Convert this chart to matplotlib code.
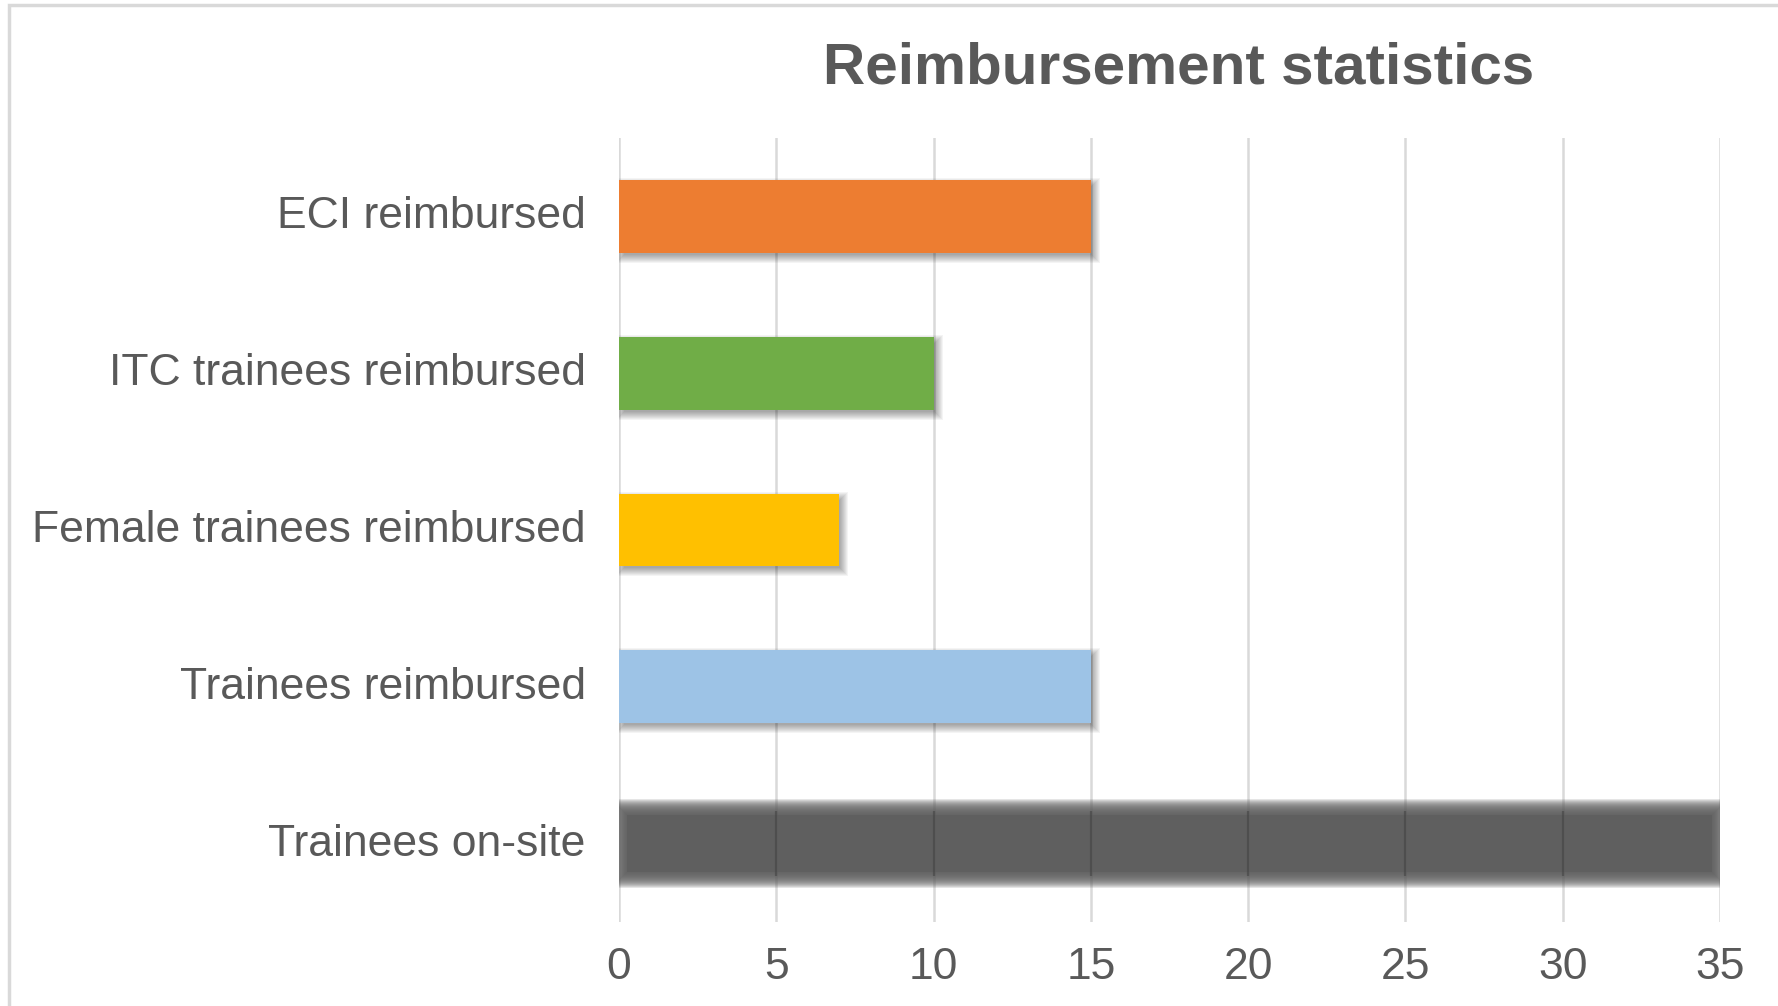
import matplotlib
matplotlib.use("Agg")
import matplotlib.pyplot as plt
from matplotlib.patches import Rectangle
from matplotlib.transforms import ScaledTranslation

plt.rcParams['font.family'] = ['Liberation Sans', 'DejaVu Sans']

# data (bottom to top)
categories = ["Trainees on-site", "Trainees reimbursed", "Female trainees reimbursed",
              "ITC trainees reimbursed", "ECI reimbursed"]
values = [35, 15, 7, 10, 15]
bar_colors = ["#5F5F5F", "#9DC3E6", "#FFC000", "#70AD47", "#ED7D31"]
xticks = [0, 5, 10, 15, 20, 25, 30, 35]

W, H = 1778, 1006
fig = plt.figure(figsize=(W / 100, H / 100), dpi=100)
ax_rect = [619 / W, 1 - 922 / H, (1720 - 619) / W, (922 - 138) / H]
ax = fig.add_axes(ax_rect)

ax.set_xlim(0, 35)
ax.set_ylim(-0.5, len(categories) - 0.5)

# size of one pixel in data units
px_x = 35 / (ax_rect[2] * W)
px_y = len(categories) / (ax_rect[3] * H)

bar_h = 0.465
ypos = list(range(len(categories)))

for y, v, c in zip(ypos, values, bar_colors):
    if y == 0:
        # soft-edged dark bar
        blur = 8
        for k in range(-blur, blur + 1, 1):
            ax.barh(y, v + 2 * k * px_x, left=-k * px_x, height=bar_h + 2 * k * px_y,
                    color=c, alpha=0.16, linewidth=0, zorder=3)
        ax.barh(y, v - 2 * blur * px_x, left=blur * px_x, height=bar_h - 2 * blur * px_y,
                color=c, linewidth=0, zorder=3)
        # gridlines show through slightly darker on this bar
        ax.vlines(xticks[1:-1], y - bar_h / 2 + 4 * px_y, y + bar_h / 2 - 4 * px_y,
                  color="#3A3A3A", linewidth=1.6, alpha=0.45, zorder=4)
    else:
        # blurred drop shadow, offset down-right
        for k in range(-2, 7):
            ax.barh(y - 4 * px_y, v + 2 * k * px_x, left=3 * px_x - k * px_x,
                    height=bar_h + 2 * k * px_y, color="black", alpha=0.045,
                    linewidth=0, zorder=2)
        ax.barh(y, v, height=bar_h, color=c, linewidth=0, zorder=3)

ax.set_yticks(ypos)
ax.set_yticklabels(categories)
ax.set_xticks(xticks)
ax.set_xticklabels([str(t) for t in xticks])

ax.xaxis.grid(True, color="#D9D9D9", linewidth=1.8, zorder=1)
ax.yaxis.grid(False)
ax.set_axisbelow(True)
for s in ax.spines.values():
    s.set_visible(False)
ax.tick_params(axis="both", length=0, labelsize=32, labelcolor="#595959")
ax.tick_params(axis="x", pad=18)
ax.tick_params(axis="y", pad=24)
shift = ScaledTranslation(0, 4 / 100, fig.dpi_scale_trans)
for lbl in ax.get_yticklabels():
    lbl.set_transform(lbl.get_transform() + shift)

fig.text(1179 / W, 1 - 68 / H, "Reimbursement statistics", ha="center", va="center",
         fontsize=42, fontweight="bold", color="#595959")

# chart border
fig.patches.append(Rectangle((9 / W, -0.1), 1.2, 1 - 5 / H + 0.1, transform=fig.transFigure,
                             fill=False, edgecolor="#D9D9D9", linewidth=2.5))

fig.savefig("out.png", dpi=100, facecolor="white")
